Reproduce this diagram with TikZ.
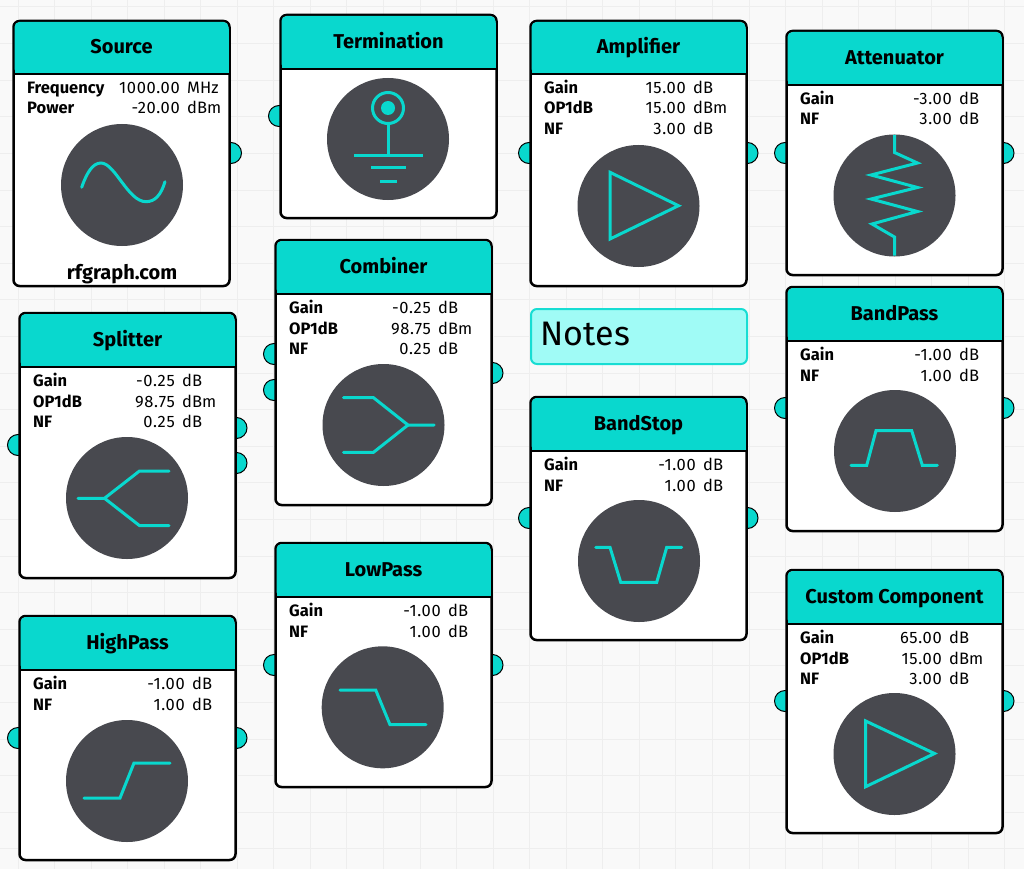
\documentclass[tikz,border=0pt]{standalone}
\usepackage{fontspec}
\setmainfont{Fira Sans}
\newfontfamily\numfont[LetterSpace=4]{Fira Sans}
\definecolor{teal1}{HTML}{09D8CE}
\definecolor{noteFill}{HTML}{A0FBF6}
\definecolor{noteEdge}{HTML}{17DDD3}
\definecolor{dial}{HTML}{48494F}
\definecolor{paper}{HTML}{F9F9F9}
\definecolor{gridc}{HTML}{EEEEEE}
\tikzset{
  boxbody/.style={draw=black,fill=white,line width=2.5pt,rounded corners=6pt},
  headbar/.style={fill=teal1,rounded corners=5pt},
  headline/.style={draw=black,line width=2.5pt},
  titletext/.style={inner sep=0pt,anchor=base,font=\fontsize{20}{22}\selectfont\bfseries},
  rowlabel/.style={inner sep=0pt,anchor=base west,font=\fontsize{16.5}{18}\selectfont\bfseries},
  rownum/.style={inner sep=0pt,anchor=base east,font=\fontsize{16.5}{18}\selectfont\numfont},
  rowunit/.style={inner sep=0pt,anchor=base west,font=\fontsize{16.5}{18}\selectfont},
  portdot/.style={circle,draw=black,fill=teal1,line width=1pt,minimum size=21pt,inner sep=0pt},
  dialdisc/.style={circle,fill=dial,minimum size=122pt,inner sep=0pt},
  glyph/.style={draw=teal1,line width=3pt},
  trace/.style={glyph,line cap=round},
}
% id, x, y, bottom, header bottom, circle cx, cy, unit offset, title
\newcommand{\blockbox}[9]{%
  \def\bid{#1}\def\bx{#2}\def\hb{#5}\def\uo{#8}%
  \draw[boxbody] (#2+0.5,#3) rectangle (#2+216.5,#4-0.5);
  \path[headbar] (#2+1.5,#5) -- (#2+1.5,#3+1) -- (#2+215.5,#3+1) -- (#2+215.5,#5) -- cycle;
  \fill[teal1] (#2+1.5,#3+8) rectangle (#2+215.5,#5);
  \draw[headline] (#2+0.5,#5) -- (#2+216.5,#5);
  \node[titletext] (#1-title) at (#2+108.5,{(#3+#5)/2+6.3}) {#9};
  \node[dialdisc] (#1-dial) at (#6,#7) {};
}
\newcommand{\prow}[4]{%
  \node[rowlabel] (\bid-l#1) at (\bx+14,\hb+19.5+20.5*#1) {#2};
  \node[rownum] (\bid-n#1) at (\bx+\uo-7,\hb+19.5+20.5*#1) {#3};
  \node[rowunit] (\bid-u#1) at (\bx+\uo,\hb+19.5+20.5*#1) {#4};
}
\begin{document}
\begin{tikzpicture}[x=1pt,y=-1pt,line join=miter]
\useasboundingbox (0,0) rectangle (1024,869);
\fill[paper] (0,0) rectangle (1024,869);
\foreach \i in {0,...,27} \draw[gridc,line width=1pt] (18+36.55*\i,0) -- (18+36.55*\i,869);
\foreach \i in {0,...,23} \draw[gridc,line width=1pt] (0,7+36.6*\i) -- (1024,7+36.6*\i);

% ports
\node[portdot] (p1) at (231,153) {};
\node[portdot] (p2) at (279,116) {};
\node[portdot] (p3) at (529,153) {};
\node[portdot] (p4) at (747.5,153) {};
\node[portdot] (p5) at (785,153) {};
\node[portdot] (p6) at (1003.5,153) {};
\node[portdot] (p7) at (274,354) {};
\node[portdot] (p8) at (274,390) {};
\node[portdot] (p9) at (492.5,373) {};
\node[portdot] (p10) at (18,445) {};
\node[portdot] (p11) at (236.5,428) {};
\node[portdot] (p12) at (236.5,463) {};
\node[portdot] (p13) at (18,738) {};
\node[portdot] (p14) at (236.5,738) {};
\node[portdot] (p15) at (274,665) {};
\node[portdot] (p16) at (492.5,665) {};
\node[portdot] (p17) at (529,518) {};
\node[portdot] (p18) at (747.5,518) {};
\node[portdot] (p19) at (785,408) {};
\node[portdot] (p20) at (1003.5,408) {};
\node[portdot] (p21) at (785,701) {};
\node[portdot] (p22) at (1003.5,701) {};

% Source
\blockbox{src}{13}{21}{286.5}{74}{122}{185}{174}{Source}
\prow{0}{Frequency}{1000.00}{MHz}
\prow{1}{Power}{-20.00}{dBm}
\draw[trace] (81.7,187.3) .. controls (87,172) and (93,163) .. (101,163) .. controls (115,163) and (128,201.7) .. (146,201.7) .. controls (155,201.7) and (161,195) .. (165,181.7);
\node[inner sep=0pt,anchor=base,font=\fontsize{20}{22}\selectfont\bfseries] (src-brand) at (122,279) {rfgraph.com};

% Termination
\blockbox{term}{280}{15}{218.5}{69}{388}{139}{174}{Termination}
\draw[glyph] (388,108) circle (15.5);
\fill[teal1] (388,108) circle (7);
\draw[glyph] (388,124) -- (388,155);
\draw[glyph] (354,155.3) -- (423,155.3);
\draw[glyph] (371,168) -- (406,168);
\draw[glyph] (380,181) -- (397,181);

% Amplifier
\blockbox{amp}{530}{21}{286.5}{74}{638.5}{206}{163}{Amplifier}
\prow{0}{Gain}{15.00}{dB}
\prow{1}{OP1dB}{15.00}{dBm}
\prow{2}{NF}{3.00}{dB}
\draw[glyph] (610,172.3) -- (678.5,205.7) -- (610,239) -- cycle;

% Attenuator
\blockbox{att}{786}{31}{275.5}{85}{894.5}{195.5}{173}{Attenuator}
\prow{0}{Gain}{-3.00}{dB}
\prow{1}{NF}{3.00}{dB}
\draw[glyph] (894.5,135) -- (894.5,152.5) -- (917.5,163) -- (871,175) -- (917.5,187.5) -- (871,199) -- (917.5,211.5) -- (872,224) -- (894.5,237) -- (894.5,255.5);

% Combiner
\blockbox{comb}{275}{240}{505.5}{294}{383.5}{425}{163}{Combiner}
\prow{0}{Gain}{-0.25}{dB}
\prow{1}{OP1dB}{98.75}{dBm}
\prow{2}{NF}{0.25}{dB}
\draw[trace] (343.5,397.7) -- (373.5,397.7) -- (408,425) -- (434,425);
\draw[trace] (343.5,452.3) -- (373.5,452.3) -- (408,425);

% Splitter
\blockbox{spl}{19}{313}{578.5}{367}{127}{498}{163}{Splitter}
\prow{0}{Gain}{-0.25}{dB}
\prow{1}{OP1dB}{98.75}{dBm}
\prow{2}{NF}{0.25}{dB}
\draw[trace] (78,498.3) -- (104.5,498.3) -- (139.5,471) -- (169,471);
\draw[trace] (104.5,498.3) -- (139.5,525.6) -- (169,525.6);

% HighPass
\blockbox{hp}{19}{616}{860.5}{670}{127}{781}{173}{HighPass}
\prow{0}{Gain}{-1.00}{dB}
\prow{1}{NF}{1.00}{dB}
\draw[trace] (84,798) -- (120,798) -- (134,763) -- (170,763);

% LowPass
\blockbox{lp}{275}{543}{787.5}{597}{382.7}{707.3}{173}{LowPass}
\prow{0}{Gain}{-1.00}{dB}
\prow{1}{NF}{1.00}{dB}
\draw[trace] (340,690) -- (375.7,690) -- (390,724.7) -- (426,724.7);

% BandStop
\blockbox{bs}{530}{397}{640.5}{451}{639}{561}{173}{BandStop}
\prow{0}{Gain}{-1.00}{dB}
\prow{1}{NF}{1.00}{dB}
\draw[trace] (595.7,547.3) -- (610,547.3) -- (620.7,582.3) -- (656.7,582.3) -- (666.7,547.3) -- (681.7,547.3);

% BandPass
\blockbox{bp}{786}{287}{531.5}{341}{895}{451}{173}{BandPass}
\prow{0}{Gain}{-1.00}{dB}
\prow{1}{NF}{1.00}{dB}
\draw[trace] (851,465.3) -- (866.7,465.3) -- (876,430.7) -- (911.7,430.7) -- (922.3,465.3) -- (937.3,465.3);

% Custom
\blockbox{cust}{786}{570}{833.5}{624}{894.5}{754}{163}{Custom Component}
\prow{0}{Gain}{65.00}{dB}
\prow{1}{OP1dB}{15.00}{dBm}
\prow{2}{NF}{3.00}{dB}
\draw[glyph] (865.7,721) -- (934.5,753.5) -- (865.7,786.7) -- cycle;

% Notes
\node[draw=noteEdge,fill=noteFill,line width=2pt,rounded corners=6pt,minimum width=216pt,minimum height=55pt,anchor=north west,inner sep=0pt] (notes) at (530,308) {};
\node[inner sep=0pt,anchor=base west,font=\fontsize{34}{36}\selectfont] (notes-text) at (540.5,345) {Notes};
\end{tikzpicture}
\end{document}
